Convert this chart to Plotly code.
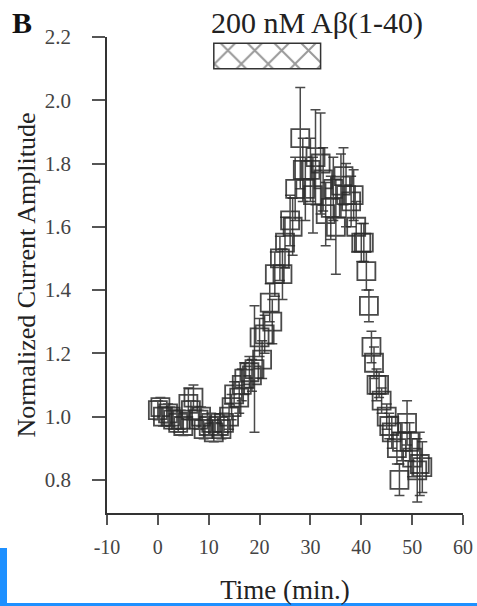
import plotly.graph_objects as go

# ---- data ----
t1 = [0, 2, 4, 6, 8, 10, 12, 14, 16, 18, 20, 22, 24, 26, 28, 30, 32, 34, 36, 38, 40, 42, 44, 46, 48, 50, 52]
y1 = [1.02, 1.01, 0.98, 1.04, 0.99, 0.97, 0.97, 1.00, 1.06, 1.14, 1.25, 1.36, 1.50, 1.62, 1.88, 1.78, 1.80, 1.66, 1.73, 1.68, 1.55, 1.22, 1.05, 0.95, 0.92, 0.87, 0.84]
e1 = [0.03, 0.03, 0.03, 0.05, 0.03, 0.03, 0.03, 0.04, 0.05, 0.05, 0.06, 0.06, 0.07, 0.08, 0.16, 0.10, 0.16, 0.10, 0.10, 0.08, 0.06, 0.05, 0.04, 0.05, 0.06, 0.06, 0.08]

t2 = [1, 3, 5, 7, 9, 11, 13, 15, 17, 19, 21, 23, 25, 27, 29, 31, 33, 35, 37, 39, 41, 43, 45, 47, 49, 51]
y2 = [1.00, 0.99, 0.97, 1.06, 0.96, 0.95, 0.98, 1.07, 1.12, 1.15, 1.26, 1.45, 1.55, 1.72, 1.72, 1.82, 1.64, 1.60, 1.70, 1.60, 1.46, 1.10, 1.00, 0.90, 0.98, 0.83]
e2 = [0.03, 0.03, 0.03, 0.04, 0.03, 0.03, 0.03, 0.04, 0.05, 0.20, 0.06, 0.07, 0.08, 0.10, 0.10, 0.15, 0.10, 0.15, 0.10, 0.08, 0.06, 0.05, 0.04, 0.05, 0.07, 0.10]

t3 = [0.5, 2.5, 4.5, 6.5, 8.5, 10.5, 12.5, 14.5, 16.5, 18.5, 20.5, 22.5, 24.5, 26.5, 28.5, 30.5, 32.5, 34.5, 36.5, 38.5, 40.5, 41.5, 42.5, 43.5, 45.5, 47.5, 49.5, 51.5]
y3 = [1.03, 1.00, 0.99, 1.02, 1.00, 0.98, 0.96, 1.03, 1.10, 1.13, 1.18, 1.30, 1.45, 1.60, 1.78, 1.70, 1.75, 1.72, 1.76, 1.70, 1.55, 1.35, 1.17, 1.10, 0.97, 0.80, 0.92, 0.85]
e3 = [0.03, 0.03, 0.03, 0.03, 0.03, 0.03, 0.03, 0.04, 0.05, 0.05, 0.06, 0.07, 0.08, 0.09, 0.10, 0.12, 0.10, 0.10, 0.09, 0.08, 0.06, 0.05, 0.05, 0.04, 0.04, 0.05, 0.06, 0.10]

x_ticks = [-10, 0, 10, 20, 30, 40, 50, 60]
x_tick_labels = ["-10", "0", "10", "20", "30", "40", "50", "60"]
y_ticks = [0.8, 1.0, 1.2, 1.4, 1.6, 1.8, 2.0, 2.2]
y_tick_labels = ["0.8", "1.0", "1.2", "1.4", "1.6", "1.8", "2.0", "2.2"]

stim_start, stim_end = 11, 32
stim_low, stim_high = 2.10, 2.18
stim_label = "200 nM Aβ(1-40)"

FONT = "Liberation Serif, Times New Roman, serif"
INK = "#2b2b2b"

fig = go.Figure()

# stimulus bar (crosshatched)
fig.add_trace(go.Bar(
    x=[(stim_start + stim_end) / 2], y=[stim_high - stim_low], base=[stim_low],
    width=[stim_end - stim_start],
    marker=dict(color="white", line=dict(color="#333", width=1.5),
                pattern=dict(shape="x", fgcolor="#333", bgcolor="white", size=19, solidity=0.2)),
    showlegend=False, hoverinfo="skip",
))

for tt, yy, ee in [(t1, y1, e1), (t2, y2, e2), (t3, y3, e3)]:
    fig.add_trace(go.Scatter(
        x=tt, y=yy, mode="markers",
        marker=dict(symbol="square-open", size=18, color=INK, line=dict(width=1.8, color=INK)),
        error_y=dict(type="data", array=ee, visible=True, color=INK, thickness=1.5, width=5),
        opacity=0.85, showlegend=False,
    ))

fig.update_layout(
    width=477, height=606,
    margin=dict(l=107, r=14, t=37, b=93, autoexpand=False),
    paper_bgcolor="white", plot_bgcolor="white",
    font=dict(family=FONT, color=INK),
    barmode="overlay",
    xaxis=dict(range=[-10, 60], tickvals=x_ticks, ticktext=x_tick_labels, showline=True,
               linecolor="#333", linewidth=1.5, automargin=False,
               ticks="outside", ticklen=10, tickwidth=1.5, tickcolor="#555",
               tickfont=dict(size=20, color="#444", family=FONT), ticklabelstandoff=5,
               showgrid=False, zeroline=False,
               title=dict(text="Time (min.)", font=dict(size=27, family=FONT, color="#222"), standoff=23)),
    yaxis=dict(range=[0.695, 2.2], tickvals=y_ticks, ticktext=y_tick_labels, showline=True,
               linecolor="#333", linewidth=1.5, automargin=False,
               ticks="outside", ticklen=13, tickwidth=1.5, tickcolor="#555",
               tickfont=dict(size=21, color="#444", family=FONT), ticklabelstandoff=17,
               showgrid=False, zeroline=False,
               title=dict(text="Normalized Current Amplitude", font=dict(size=26, family=FONT, color="#222"), standoff=2)),
    annotations=[
        dict(text=stim_label, xref="paper", yref="paper", x=0.59, y=1.03, xanchor="center", yanchor="middle",
             showarrow=False, font=dict(size=30, family=FONT, color="#222")),
        dict(text="<b>B</b>", xref="paper", yref="paper", x=-0.239, y=1.03, xanchor="center", yanchor="middle",
             showarrow=False, font=dict(size=30, family=FONT, color="#111")),
    ],
    shapes=[
        dict(type="rect", xref="paper", yref="paper", x0=-107/356, x1=-100/356,
             y0=-93/476, y1=-(548-513)/476, fillcolor="#1e90ff", line=dict(width=0), layer="above"),
        dict(type="rect", xref="paper", yref="paper", x0=-107/356, x1=1 + 14/356,
             y0=-93/476, y1=-(603-513)/476, fillcolor="#1e90ff", line=dict(width=0), layer="above"),
    ],
)

fig.write_html("out.html", config={"displayModeBar": False},
               post_script="document.body.style.margin='0';")
